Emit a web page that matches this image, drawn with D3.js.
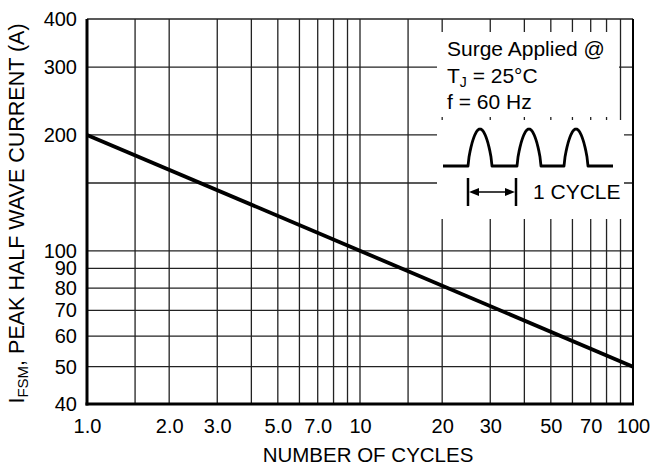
<!DOCTYPE html>
<html><head><meta charset="utf-8">
<script src="https://cdn.jsdelivr.net/npm/d3@7"></script>
<style>
body{margin:0;background:#fff}
svg text{font-family:"Liberation Sans", Arial, Helvetica, sans-serif;fill:#000}
</style>
</head><body>
<svg id="chart" width="659" height="466"></svg>
<script>
// ---- data ----
const xGrid = [1,1.5,2,3,4,5,6,7,8,9,10,15,20,30,40,50,60,70,80,90,100];
const yGrid = [40,50,60,70,80,90,100,150,200,300,400];
const xTicks = [1,2,3,5,7,10,20,30,50,70,100];
const xTickText = ["1.0","2.0","3.0","5.0","7.0","10","20","30","50","70","100"];
const yTicks = [40,50,60,70,80,90,100,200,300,400];
const yTickText = ["40","50","60","70","80","90","100","200","300","400"];
const cycles = [1, 100];
const current = [200, 50];

// ---- layout ----
const W = 659, H = 466;
const m = {left: 87, right: 26, top: 19, bottom: 62};
const svg = d3.select("#chart");
const x = d3.scaleLog().domain([1, 100]).range([m.left, W - m.right]);
const y = d3.scaleLog().domain([40, 400]).range([H - m.bottom, m.top]);

const grid = svg.append("g").attr("stroke", "#222").attr("stroke-width", 1.3).attr("fill", "none");
grid.selectAll(".vx").data(xGrid).join("line")
  .attr("x1", d => x(d)).attr("x2", d => x(d))
  .attr("y1", y(40)).attr("y2", y(400));
grid.selectAll(".hy").data(yGrid).join("line")
  .attr("x1", x(1)).attr("x2", x(100))
  .attr("y1", d => y(d)).attr("y2", d => y(d));

// inset boxes (white, covering the grid)
const ins = svg.append("g");
ins.append("rect").attr("x", 437).attr("y", 32).attr("width", 182).attr("height", 85).attr("fill", "#fff");
ins.append("rect").attr("x", 437).attr("y", 120).attr("width", 187).attr("height", 99).attr("fill", "#fff");

// frame
svg.append("line").attr("x1", x(100)).attr("x2", x(100)).attr("y1", y(400)).attr("y2", y(40))
  .attr("stroke", "#000").attr("stroke-width", 2);
svg.append("line").attr("x1", x(1)).attr("x2", x(1)).attr("y1", y(400)).attr("y2", y(40) + 1.5)
  .attr("stroke", "#000").attr("stroke-width", 3);
svg.append("line").attr("x1", x(1) - 1.5).attr("x2", x(100) + 1).attr("y1", y(40)).attr("y2", y(40))
  .attr("stroke", "#000").attr("stroke-width", 3);

// data line
const pts = cycles.map((c, i) => [c, current[i]]);
svg.append("path").datum(pts)
  .attr("d", d3.line().x(d => x(d[0])).y(d => y(d[1])))
  .attr("fill", "none").attr("stroke", "#000").attr("stroke-width", 3.8);

// axes (labels only)
const xAxis = d3.axisBottom(x).tickValues(xTicks).tickSize(0).tickPadding(15)
  .tickFormat((d, i) => xTickText[i]);
const gx = svg.append("g").attr("transform", `translate(0,${y(40)})`).call(xAxis);
gx.select(".domain").remove();
gx.selectAll("text").attr("font-size", 20).attr("font-family", "Liberation Sans, Arial, sans-serif");

const yAxis = d3.axisLeft(y).tickValues(yTicks).tickSize(0).tickPadding(10)
  .tickFormat((d, i) => yTickText[i]);
const gy = svg.append("g").attr("transform", `translate(${x(1)},0)`).call(yAxis);
gy.select(".domain").remove();
gy.selectAll("text").attr("font-size", 20).attr("font-family", "Liberation Sans, Arial, sans-serif");

// axis titles
svg.append("text").attr("x", (x(1) + x(100)) / 2 + 8).attr("y", 462)
  .attr("text-anchor", "middle").attr("font-size", 20.5).text("NUMBER OF CYCLES");

const yt = svg.append("text").attr("transform", `translate(24,${(y(40) + y(400)) / 2 + 2}) rotate(-90)`)
  .attr("text-anchor", "middle").attr("font-size", 21.5);
yt.append("tspan").text("I");
yt.append("tspan").attr("font-size", 15).attr("dy", 4).text("FSM");
yt.append("tspan").attr("dy", -4).text(", PEAK HALF WAVE CURRENT (A)");

// inset text
const t1 = svg.append("g").attr("font-size", 21);
t1.append("text").attr("x", 447).attr("y", 56).text("Surge Applied @");
const tj = t1.append("text").attr("x", 447).attr("y", 83);
tj.append("tspan").text("T");
tj.append("tspan").attr("font-size", 14).attr("dy", 4).text("J");
tj.append("tspan").attr("dy", -4).text(" = 25\u00B0C");
t1.append("text").attr("x", 447).attr("y", 109).text("f = 60 Hz");

// waveform sketch
const base = 166, humpW = 24, humpH = 37, starts = [468, 517, 564];
const wp = d3.path();
wp.moveTo(443, base);
starts.forEach(s => {
  wp.lineTo(s, base);
  for (let k = 0; k <= 24; k++) {
    const t = k / 24;
    wp.lineTo(s + t * humpW, base - humpH * Math.pow(Math.sin(Math.PI * t), 0.7));
  }
});
wp.lineTo(613, base);
svg.append("path").attr("d", wp.toString()).attr("fill", "none").attr("stroke", "#000")
  .attr("stroke-width", 2.8).attr("stroke-linejoin", "round");

// cycle arrow
const ay = 192, ax1 = 468, ax2 = 516;
const ag = svg.append("g").attr("stroke", "#000").attr("stroke-width", 2.5);
ag.append("line").attr("x1", ax1).attr("x2", ax1).attr("y1", ay - 14).attr("y2", ay + 14);
ag.append("line").attr("x1", ax2).attr("x2", ax2).attr("y1", ay - 14).attr("y2", ay + 14);
ag.append("line").attr("x1", ax1 + 6).attr("x2", ax2 - 6).attr("y1", ay).attr("y2", ay).attr("stroke-width", 1.5);
svg.append("path").attr("d", `M${ax1 + 1},${ay} L${ax1 + 11},${ay - 4} L${ax1 + 11},${ay + 4} Z`).attr("fill", "#000");
svg.append("path").attr("d", `M${ax2 - 1},${ay} L${ax2 - 11},${ay - 4} L${ax2 - 11},${ay + 4} Z`).attr("fill", "#000");
svg.append("text").attr("x", 533).attr("y", 199).attr("font-size", 21).text("1 CYCLE");
</script>
</body></html>
